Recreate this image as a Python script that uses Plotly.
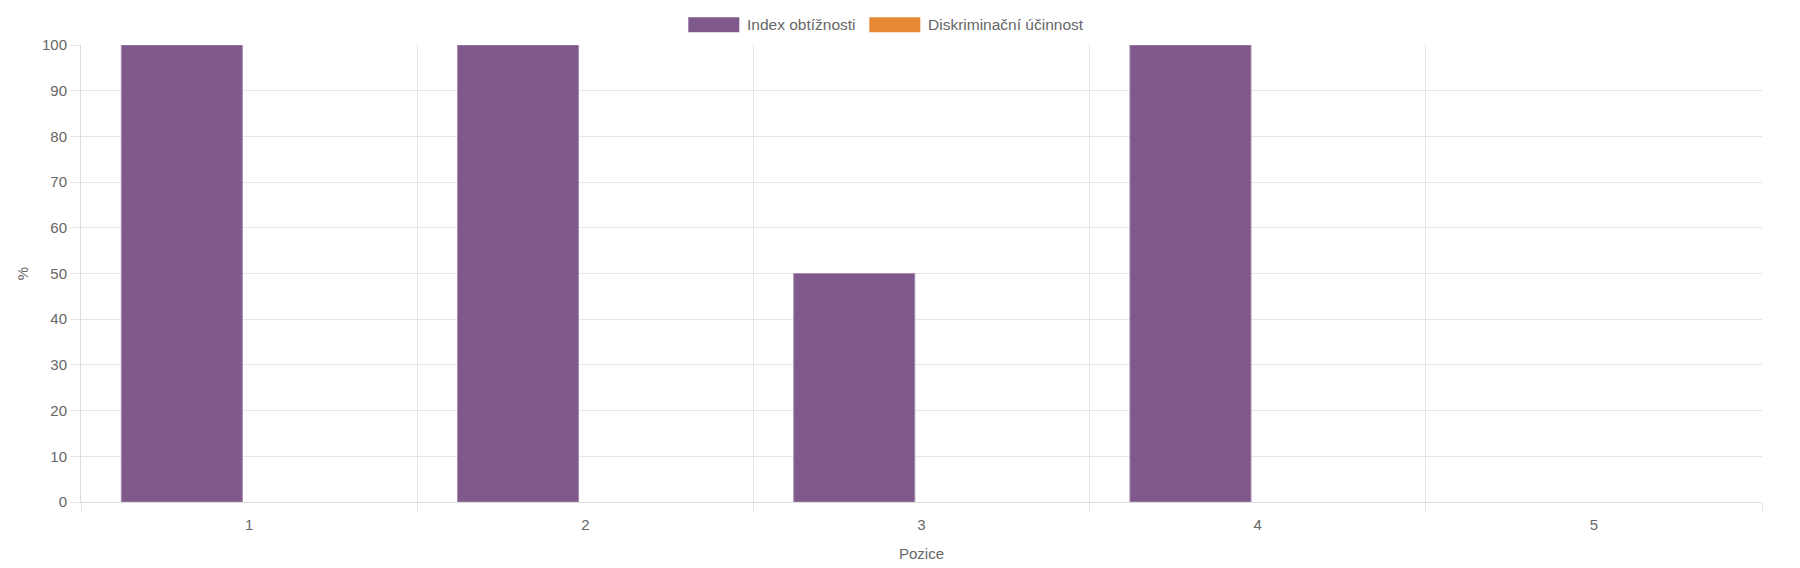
import plotly.graph_objects as go

# data
pozice = ["1", "2", "3", "4", "5"]
index_obtiznosti = [100, 100, 50, 100, 0]
diskriminacni_ucinnost = [0, 0, 0, 0, 0]

PURPLE = "#7f588c"
ORANGE = "#e58935"
GRID = "#e6e6e6"
TEXT = "#666666"
FONT = "Liberation Sans, Arial, Helvetica, sans-serif"

W, H = 1800, 568
OFF = 8  # page body margin of the html wrapper
# plot area measured on screen: x 80.7..1761.7, y 44.7..501.7
L, T = 80.7 - OFF, 44.7 - OFF
R = W - (1761.7 - OFF)
B = H - (501.7 - OFF)

fig = go.Figure()
# zero-height bars get no outline, like in the original
fig.add_trace(go.Bar(x=pozice, y=index_obtiznosti, name="Index obtížnosti",
                     marker=dict(color=PURPLE,
                                 line=dict(color="#a58bb0",
                                           width=[1 if v else 0 for v in index_obtiznosti]))))
fig.add_trace(go.Bar(x=pozice, y=diskriminacni_ucinnost, name="Diskriminační účinnost",
                     marker=dict(color=ORANGE,
                                 line=dict(color="#efb07a",
                                           width=[1 if v else 0 for v in diskriminacni_ucinnost]))))

# own legend (wide swatches like the original)
pw = W - L - R
ph = H - T - B


def px_x(v):
    return (v - OFF - L) / pw


def px_y(v):
    return (H - B - (v - OFF)) / ph


legend_items = [("Index obtížnosti", PURPLE, 688), ("Diskriminační účinnost", ORANGE, 869)]
for label, color, x0 in legend_items:
    fig.add_shape(type="rect", xref="paper", yref="paper",
                  x0=px_x(x0), x1=px_x(x0 + 51), y0=px_y(32), y1=px_y(17),
                  fillcolor=color, line=dict(width=0))
    fig.add_annotation(xref="paper", yref="paper", x=px_x(x0 + 57), y=px_y(24.5),
                       text=label, showarrow=False, xanchor="left", yanchor="middle",
                       font=dict(size=15.5, color=TEXT, family=FONT))

fig.update_layout(
    width=W, height=H,
    margin=dict(l=L, r=R, t=T, b=B, autoexpand=False),
    paper_bgcolor="white", plot_bgcolor="white",
    barmode="group", bargap=0.2, bargroupgap=0.1,
    showlegend=False,
    font=dict(family=FONT, size=15, color=TEXT),
)
fig.update_xaxes(
    type="category", tickson="boundaries", automargin=False,
    showgrid=True, gridcolor=GRID, gridwidth=1,
    ticks="outside", ticklen=10, tickcolor=GRID,
    ticklabelstandoff=9,
    showline=True, linecolor="#dcdcdc", linewidth=1,
    title=dict(text="Pozice", standoff=16, font=dict(size=15, color=TEXT)),
)
fig.update_yaxes(
    range=[0, 100], dtick=10, automargin=False,
    showgrid=True, gridcolor=GRID, gridwidth=1,
    ticks="outside", ticklen=10, tickcolor=GRID,
    showline=True, linecolor="#dcdcdc", linewidth=1,
    zeroline=True, zerolinecolor="#dcdcdc", zerolinewidth=1,
    title=dict(text="%", standoff=9, font=dict(size=15, color=TEXT)),
)

fig.write_html("out.html")
